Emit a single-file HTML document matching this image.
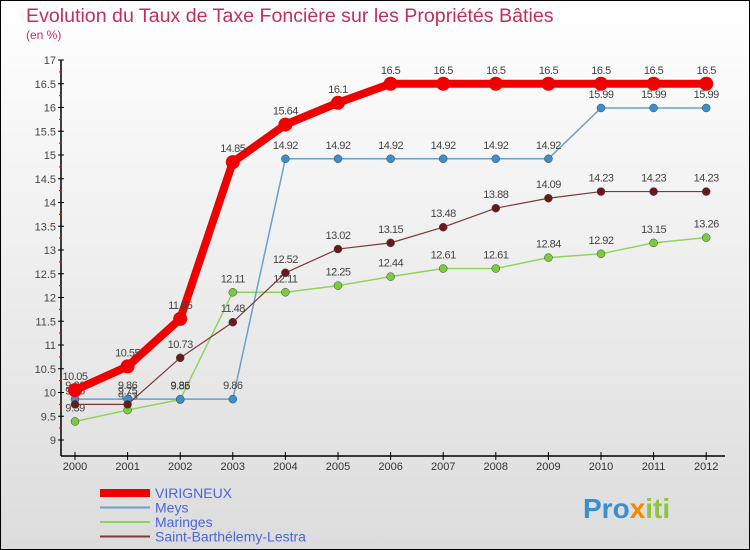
<!DOCTYPE html>
<html><head><meta charset="utf-8"><style>
body{margin:0;width:750px;height:550px;overflow:hidden}
svg{display:block;font-family:"Liberation Sans",sans-serif}
</style></head><body>
<svg id="c" width="750" height="550" xmlns="http://www.w3.org/2000/svg">
<defs><linearGradient id="bg" x1="0" y1="0" x2="0" y2="1"><stop offset="0" stop-color="#ffffff"/><stop offset="1" stop-color="#dcdcdc"/></linearGradient></defs>
<rect x="0.5" y="0.5" width="749" height="549" fill="url(#bg)" stroke="#000"/>
<text x="26" y="22" font-size="19.6" fill="#c0305a">Evolution du Taux de Taxe Foncière sur les Propriétés Bâties</text>
<text x="26" y="39" font-size="12" fill="#c0305a">(en %)</text>
<g id="axes"></g><g id="series"></g><g id="legend"></g>
<text x="583" y="518" font-size="28" font-weight="bold" fill="#3a8fd0">Pro<tspan fill="#f08a00">x</tspan><tspan fill="#8cc63f">iti</tspan></text>
</svg>
<script>
const years=[2000,2001,2002,2003,2004,2005,2006,2007,2008,2009,2010,2011,2012];
const yTicks=[9,9.5,10,10.5,11,11.5,12,12.5,13,13.5,14,14.5,15,15.5,16,16.5,17];
const seriesNames=["VIRIGNEUX","Meys","Maringes","Saint-Barthélemy-Lestra"];
const virigneux=[10.05,10.55,11.55,14.85,15.64,16.1,16.5,16.5,16.5,16.5,16.5,16.5,16.5];
const meys=[9.86,9.86,9.86,9.86,14.92,14.92,14.92,14.92,14.92,14.92,15.99,15.99,15.99];
const maringes=[9.39,9.63,9.85,12.11,12.11,12.25,12.44,12.61,12.61,12.84,12.92,13.15,13.26];
const saintB=[9.75,9.75,10.73,11.48,12.52,13.02,13.15,13.48,13.88,14.09,14.23,14.23,14.23];
const NS="http://www.w3.org/2000/svg";
const X=i=>75+i*52.6;
const Y=v=>440-(v-9)*47.5;
function mk(t,a,p){const e=document.createElementNS(NS,t);for(const k in a)e.setAttribute(k,a[k]);p.appendChild(e);return e;}
const ax=document.getElementById('axes');
let l=mk('line',{x1:61,y1:60,x2:61,y2:456,stroke:'#000','stroke-width':1.5},ax);


l=mk('line',{x1:61,y1:456,x2:725,y2:456,stroke:'#000','stroke-width':1.5},ax);


yTicks.forEach(v=>{
 mk('line',{x1:58,y1:Y(v),x2:64,y2:Y(v),stroke:'#000'},ax);
 if(v<17)mk('line',{x1:59,y1:Y(v+0.25),x2:62,y2:Y(v+0.25),stroke:'#e00'},ax);
 const t=mk('text',{x:56,y:Y(v)+4,'font-size':11,'text-anchor':'end',fill:'#444'},ax);t.textContent=v;
 
 
});
years.forEach((y,i)=>{
 mk('line',{x1:X(i),y1:452,x2:X(i),y2:460,stroke:'#000'},ax);
 const t=mk('text',{x:X(i),y:470,'font-size':11,'text-anchor':'middle',fill:'#333'},ax);t.textContent=y;
 
 
});
const sg=document.getElementById('series');
const defs=[[maringes,'#8fd45a','#7acc3a',1.5,4],[meys,'#6aa0cc','#3a8fd0',1.5,4],[saintB,'#7a3a3a','#6b1a1a',1.2,4],[virigneux,'#f00000','#f00000',8,7]];
defs.forEach(([d,lc,mc,w,r],si)=>{
 const g=mk('g',{},sg);
 
 
 const p=mk('polyline',{points:d.map((v,i)=>X(i)+','+Y(v)).join(' '),fill:'none',stroke:lc,'stroke-width':w,'stroke-linejoin':'round'},g);
 
 
 d.forEach((v,i)=>{
  const c=mk('circle',{cx:X(i),cy:Y(v),r:r,fill:mc,stroke:si==3?'none':'#444','stroke-width':0.5},g);
  
  
  const t=mk('text',{x:X(i),y:Y(v)-10,'font-size':11,'text-anchor':'middle',fill:'#444','letter-spacing':-0.5},g);t.textContent=v;
  
  
 });
});
const lg=document.getElementById('legend');
const lcol=['#f00000','#6aa0cc','#8fd45a','#7a3a3a'],lw=[8,2,2,2];
seriesNames.forEach((n,i)=>{
 const yy=493+i*14.5;
 mk('line',{x1:100,y1:yy,x2:150,y2:yy,stroke:lcol[i],'stroke-width':lw[i]},lg);
 const t=mk('text',{x:155,y:yy+5,'font-size':14,fill:'#4a66d8'},lg);t.textContent=n;
 
 
});
</script>
</body></html>
